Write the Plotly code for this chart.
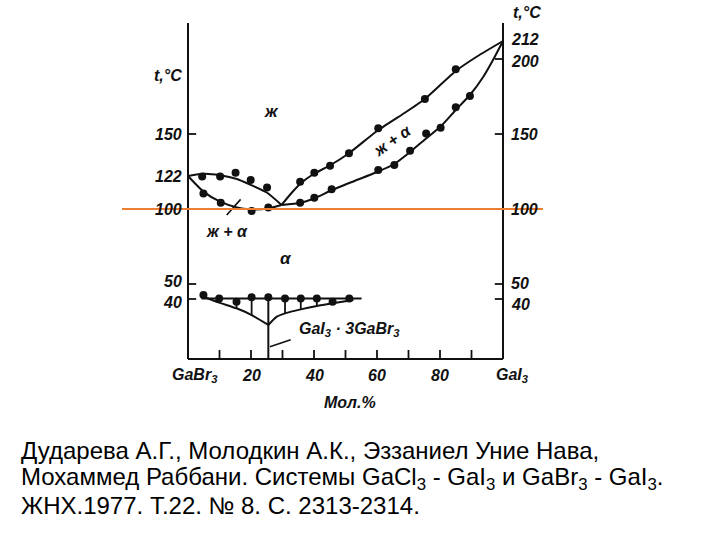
import plotly.graph_objects as go

# ---------------- data (x = mol.% GaI3, t = °C) ----------------
left_ticks = [40, 50, 100, 150]
left_label_vals = [40, 50, 100, 122, 150]
left_labels = ["40", "50", "100", "122", "150"]
right_ticks = [40, 50, 100, 150, 200]
right_label_vals = [40, 50, 100, 150, 200, 212]
right_labels = ["40", "50", "100", "150", "200", "212"]
x_ticks = [10, 20, 30, 40, 50, 60, 70, 80, 90]
x_label_vals = [20, 40, 60, 80]
x_labels = ["20", "40", "60", "80"]

liq_left_x = [0, 5, 10.2, 15.5, 19.7, 25, 29.7]
liq_left_t = [122, 123.5, 122.5, 120, 116.3, 111, 102.7]
sol_left_x = [0, 4.9, 10.2, 15.5, 19.7, 25.5, 29.7]
sol_left_t = [122, 111.6, 104.9, 101.1, 99.8, 100.4, 102.7]
liq_right_x = [29.7, 33, 36, 40, 45, 51, 60, 68, 75, 85, 92, 100]
liq_right_t = [102.7, 111, 117.5, 123.5, 129, 137, 152, 163, 173, 192, 202, 212]
sol_right_x = [29.7, 35.6, 40, 45.6, 52, 60.4, 65.5, 70.5, 75.6, 80.2, 85, 89.5, 93.7, 97, 100]
sol_right_t = [102.7, 104, 107, 112.5, 118, 125, 130, 138, 147, 155, 166, 176, 188, 200, 212]

liq_dots_x = [4.5, 10.2, 15.1, 19.9, 25.1, 35.6, 40.1, 45.1, 51.1, 60.4, 75.2, 85.0]
liq_dots_t = [121.6, 121.6, 124.2, 119.3, 114.4, 118.2, 124.2, 128.9, 137.1, 153.8, 173.3, 193.1]
sol_dots_x = [4.9, 10.4, 20.2, 25.5, 35.6, 40.1, 45.6, 60.4, 65.5, 70.5, 75.6, 80.2, 85.0, 89.5]
sol_dots_t = [110.4, 104.2, 98.7, 101, 104.2, 107.5, 113.1, 126, 129.3, 138.9, 150.4, 154.2, 167.8, 175.3]

eut_x = [4.3, 55.1]
eut_t = [40.4, 40.4]
sub_dots_x = [4.9, 9.9, 15.4, 20.2, 25.5, 30.8, 35.8, 40.9, 45.9, 51.2]
sub_dots_t = [42.7, 40.4, 38.2, 41.2, 41.2, 40.4, 40.4, 40.4, 38.2, 40.4]
v_left_x = [4.9, 9.9, 15.4, 20.2, 25.5]
v_left_t = [41.5, 37.6, 33.8, 29.3, 22.7]
v_right_x = [25.5, 28.2, 30.8, 35.8, 40.9, 45.9, 52.5]
v_right_t = [22.7, 28.2, 30.4, 33.1, 35.3, 37.1, 39.3]
hatch_x = [9.9, 15.4, 20.2, 30.8, 35.8, 40.9, 45.9]
hatch_bottom = [37.6, 33.8, 29.3, 30.4, 33.1, 35.3, 37.1]
compound_x = 25.5
t_top = 224
ref_line_t = 100

# ---------------- pixel geometry ----------------
W, H = 720, 540
X0PX, PXPER = 188, 3.15   # x=0 at px 188
Y0PX, PYPER = 359, 1.5    # t=0 at py 359
xr = [(0 - X0PX) / PXPER, (W - X0PX) / PXPER]
yr = [(Y0PX - H) / PYPER, (Y0PX - 0) / PYPER]

BLACK = "#111111"
fig = go.Figure()

def line(x, t, shape="linear", width=2, color=BLACK, smoothing=0.8):
    fig.add_trace(go.Scatter(x=x, y=t, mode="lines",
                             line=dict(color=color, width=width, shape=shape,
                                       smoothing=smoothing),
                             hoverinfo="skip", showlegend=False))

def dots(x, t, size=8):
    fig.add_trace(go.Scatter(x=x, y=t, mode="markers",
                             marker=dict(color=BLACK, size=size),
                             hoverinfo="skip", showlegend=False))

# frame
line([0, 0], [0, t_top])
line([100, 100], [0, t_top])
line([0, 100], [0, 0])

# ticks (inside)
tx, ty = [], []
for v in left_ticks:
    tx += [0, 2.6, None]; ty += [v, v, None]
for v in right_ticks:
    tx += [100, 97.4, None]; ty += [v, v, None]
for v in x_ticks:
    tx += [v, v, None]; ty += [0, 6, None]
line(tx, ty, width=1.8)

# curves
line(liq_left_x, liq_left_t, shape="spline", smoothing=0.6)
line(sol_left_x, sol_left_t, shape="spline", smoothing=0.6)
line(liq_right_x, liq_right_t, shape="spline", smoothing=0.5)
line(sol_right_x, sol_right_t, shape="spline", smoothing=0.5)
dots(liq_dots_x, liq_dots_t)
dots(sol_dots_x, sol_dots_t)

# subsolidus
line(eut_x, eut_t)
line(v_left_x, v_left_t, shape="spline", smoothing=0.5)
line(v_right_x, v_right_t, shape="spline", smoothing=0.6)
hx, hy = [], []
for xv, b in zip(hatch_x, hatch_bottom):
    hx += [xv, xv, None]; hy += [eut_t[0], b, None]
line(hx, hy, width=1.8)
line([compound_x, compound_x], [eut_t[0], 0])
dots(sub_dots_x, sub_dots_t)

# pointer lines
line([12.3, 16.7], [96, 106.4], width=1.6)
line([26, 32.6], [8.2, 12.8], width=1.6)

# orange reference line
line([(122 - X0PX) / PXPER, (543 - X0PX) / PXPER], [ref_line_t, ref_line_t],
     width=2, color="#ED7D31")

FONT = dict(family="Liberation Sans", size=16, color=BLACK, style="italic", weight="bold")

def label(x, y, text, xanchor="center", size=16, angle=0, yshift=0):
    f = dict(FONT); f["size"] = size
    fig.add_annotation(x=x, y=y, text=text, showarrow=False, xanchor=xanchor,
                       yanchor="middle", font=f, textangle=angle, yshift=yshift)

shifts_left = {40: -3, 50: 3}
for v, s in zip(left_label_vals, left_labels):
    label(-1.4, v, s, xanchor="right", yshift=shifts_left.get(v, 0))
shifts_right = {40: -5, 50: 1, 200: -2, 212: 2}
for v, s in zip(right_label_vals, right_labels):
    label(101.8, v, s, xanchor="left", yshift=shifts_right.get(v, 0))
for v, s in zip(x_label_vals, x_labels):
    label(v, -11, s)
label(2.2, -11, "GaBr<sub>3</sub>")
label(103, -11, "GaI<sub>3</sub>")
label(51.5, -29, "Мол.%")
label(-6.5, 189, "t,°C", xanchor="center")
label(107.5, 231, "t,°C", xanchor="center")
label(26.5, 165, "ж", size=17)
label(64.8, 146, "ж + α", angle=-35)
label(12.4, 85, "ж + α")
label(31, 67, "α", size=17)
label(34.5, 19.5, "GaI<sub>3</sub> · 3GaBr<sub>3</sub>", xanchor="left")

# caption
cap = ["Дударева А.Г., Молодкин А.К., Эззаниел Уние Нава,",
       "Мохаммед Раббани. Системы GaCl<sub>3</sub> - GaI<sub>3</sub> и GaBr<sub>3</sub> - GaI<sub>3</sub>.",
       "ЖНХ.1977. Т.22. № 8. С. 2313-2314."]
cap_y = [450, 478, 505]
for s, py in zip(cap, cap_y):
    fig.add_annotation(x=19 / W, y=1 - py / H, xref="paper", yref="paper", text=s,
                       showarrow=False, xanchor="left", yanchor="middle",
                       font=dict(family="Liberation Sans", size=24, color="#000000"))

fig.update_layout(width=W, height=H, margin=dict(l=0, r=0, t=0, b=0),
                  paper_bgcolor="white", plot_bgcolor="white",
                  xaxis=dict(range=xr, visible=False, fixedrange=True),
                  yaxis=dict(range=yr, visible=False, fixedrange=True),
                  showlegend=False)
fig.write_html("out.html")
